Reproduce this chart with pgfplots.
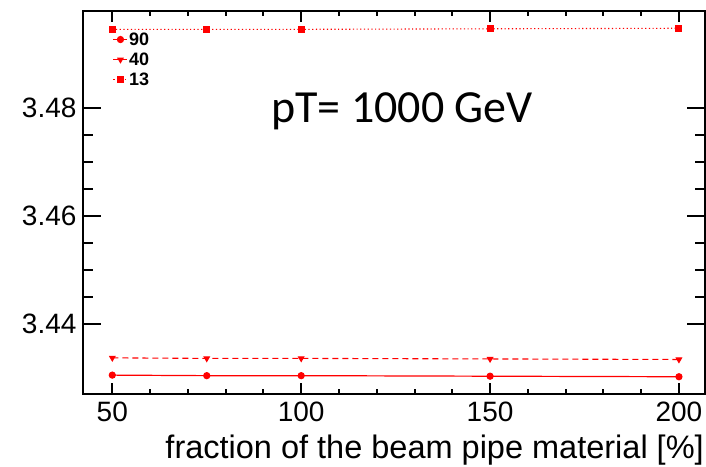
\documentclass[border=0pt]{standalone}
\usepackage{fontspec}
\setmainfont{Liberation Sans}
\newfontfamily\carlito{Carlito}
\usepackage{pgfplots}
\pgfplotsset{compat=1.18}

\begin{document}
\begin{tikzpicture}
\useasboundingbox (-83pt,-72pt) rectangle (623pt,394pt);
% y-axis ticks and labels
\begin{axis}[
  at={(0pt,0pt)}, anchor=south west,
  scale only axis, width=622pt, height=383pt,
  xmin=42.24, xmax=206.9, ymin=3.427, ymax=3.498,
  axis line style={line width=2pt},
  tick align=inside,
  xtick=\empty,
  ytick={3.44,3.46,3.48}, minor y tick num=3,
  major tick length=18pt, minor tick length=10pt,
  tick style={black, line width=2pt},
  /pgf/number format/assume math mode=true,
  yticklabel style={font=\fontsize{28}{30}\selectfont, xshift=-3pt,
    /pgf/number format/.cd, fixed, fixed zerofill, precision=2},
]
\end{axis}
% main axis with data and x ticks
\begin{axis}[
  at={(0pt,0pt)}, anchor=south west,
  scale only axis, width=622pt, height=383pt,
  xmin=42.24, xmax=206.9, ymin=3.427, ymax=3.498,
  axis line style={line width=2pt},
  tick align=inside,
  xtick={50,100,150,200}, minor x tick num=4,
  ytick=\empty,
  major tick length=11pt, minor tick length=5pt,
  tick style={black, line width=2pt},
  /pgf/number format/assume math mode=true,
  xticklabel style={font=\fontsize{28}{30}\selectfont, yshift=-4pt},
  xlabel={fraction of the beam pipe material [\%]},
  xlabel style={font=\fontsize{32.5}{35}\selectfont, at={(axis description cs:1,0)}, anchor=base east, inner sep=0pt, yshift=-64.5pt, xshift=-1pt},
  legend style={at={(axis description cs:0.0477,0.947)}, anchor=north west,
    draw=none, fill=none, inner sep=0pt,
    font=\bfseries\fontsize{18}{20}\selectfont, row sep=4pt,
    nodes={inner sep=1pt},
    /tikz/every even column/.append style={column sep=2pt}},
  legend cell align=left,
  legend image code/.code={\draw[mark repeat=2,mark phase=2] plot coordinates {(0pt,0pt) (7pt,0pt) (14pt,0pt)};},
]
\addplot[red, line width=1.2pt, mark=*, mark size=3pt, mark options={solid}]
  coordinates {(50,3.4305) (75,3.4304) (100,3.4304) (150,3.4303) (200,3.4302)};
\addlegendentry{90}
\addplot[red, line width=1.1pt, dash pattern=on 6pt off 4pt, mark=triangle*, mark size=3pt, mark options={solid, rotate=180}]
  coordinates {(50,3.4337) (75,3.4336) (100,3.4336) (150,3.4335) (200,3.4334)};
\addlegendentry{40}
\addplot[red, line width=1.1pt, dash pattern=on 1.2pt off 2.5pt, mark=square*, mark size=3pt, mark options={solid}]
  coordinates {(50,3.4946) (75,3.4946) (100,3.4946) (150,3.4947) (200,3.4948)};
\addlegendentry{13}
\node[anchor=base, inner sep=0pt, font=\carlito\fontsize{46}{50}\selectfont] at (axis description cs:0.5129,0.7076) {pT= 1000 GeV};
\end{axis}
\end{tikzpicture}
\end{document}
